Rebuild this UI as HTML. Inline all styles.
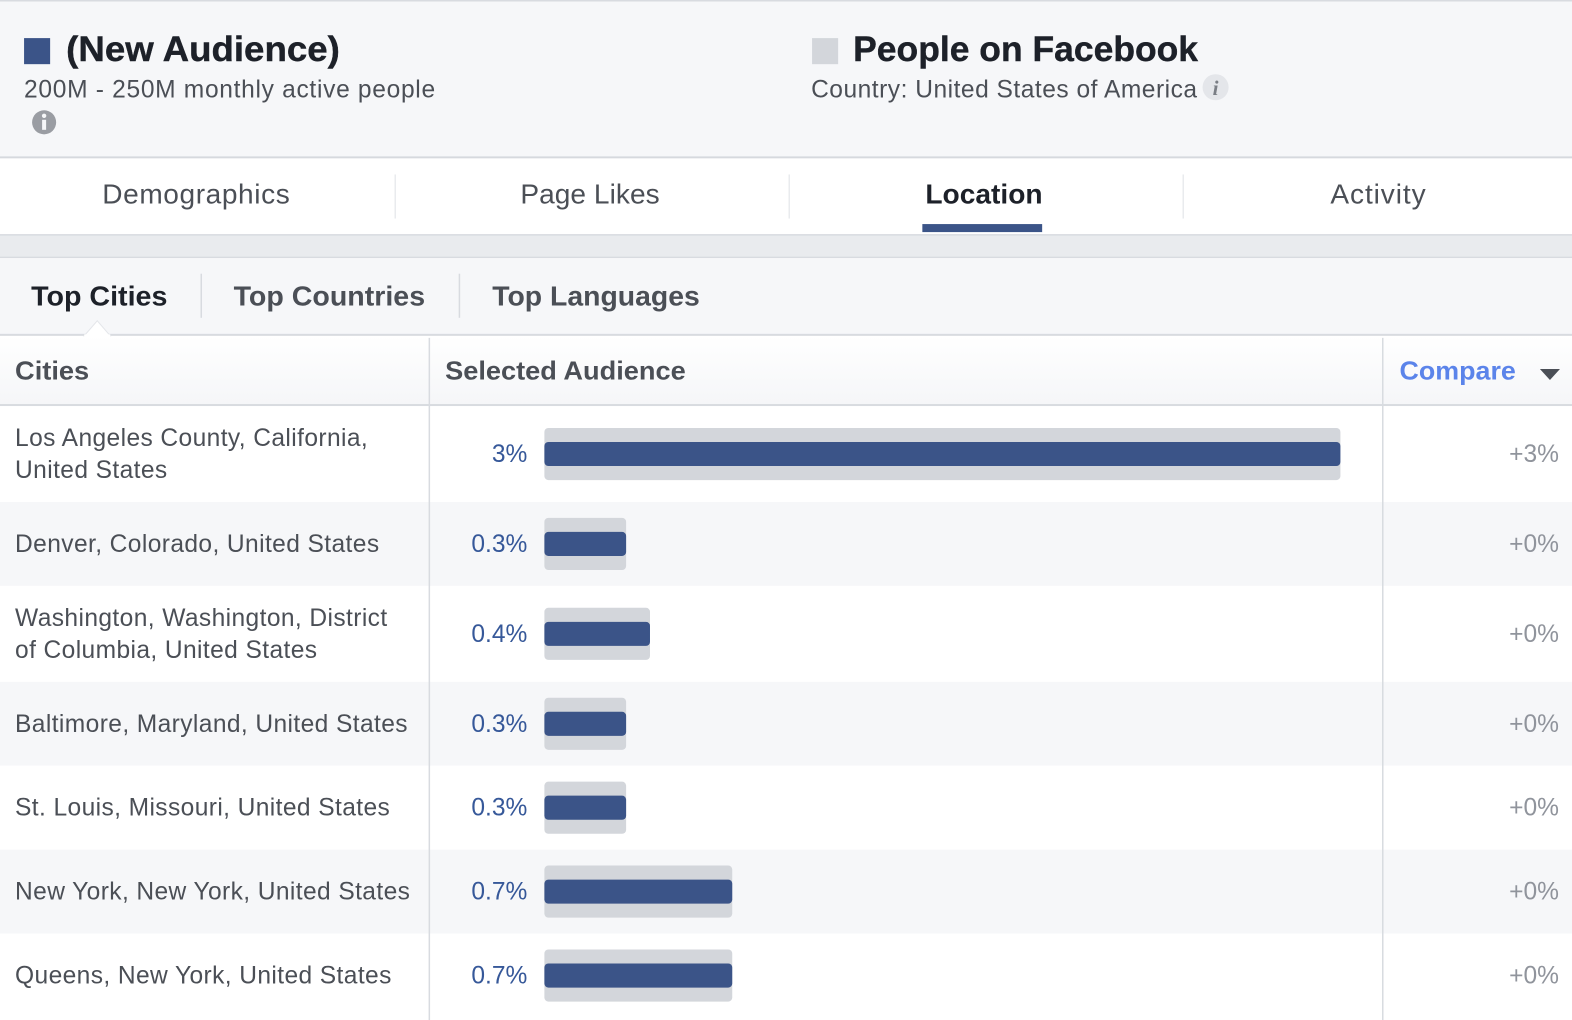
<!DOCTYPE html>
<html lang="en">
<head>
<meta charset="utf-8">
<title>Audience Insights - Location</title>
<style>
html,body{margin:0;padding:0;background:#fff;width:1572px;height:1020px;overflow:hidden}
svg{display:block;position:absolute;left:0;top:0}
text{font-family:"Liberation Sans",Arial,sans-serif}
.b{font-weight:bold}
.city{font-size:24.5px;fill:#4b4f56}
.val{font-size:24.5px;fill:#365899;text-anchor:end}
.cmp{font-size:24.5px;fill:#90949c;text-anchor:end}
</style>
</head>
<body>
<svg id="chart" xmlns="http://www.w3.org/2000/svg" width="1572" height="1020" viewBox="0 0 1568 1017.4">
  <rect x="0" y="0" width="1568" height="1018" fill="#ffffff"/>
  <rect x="0" y="0" width="1568" height="157" fill="#f6f7f9"/>
  <rect x="0" y="0" width="1568" height="1.5" fill="#d8dbe0"/>
  <rect x="24" y="38" width="26" height="26" fill="#3b5488"/>
  <text class="b" x="66" y="61" font-size="35" fill="#1d2129" stroke="#1d2129" stroke-width="0.4" textLength="273" lengthAdjust="spacingAndGlyphs">(New Audience)</text>
  <text x="24" y="97.5" font-size="24.5" fill="#4b4f56" textLength="410">200M - 250M monthly active people</text>
  <g>
    <circle cx="44" cy="122" r="12" fill="#9a9da3"/>
    <circle cx="44" cy="115.5" r="2.2" fill="#f6f7f9"/>
    <rect x="42" y="119.5" width="4" height="10" fill="#f6f7f9"/>
  </g>
  <rect x="810" y="38" width="26" height="26" fill="#d3d6db"/>
  <text class="b" x="851" y="61" font-size="35" fill="#1d2129" stroke="#1d2129" stroke-width="0.4" textLength="344" lengthAdjust="spacingAndGlyphs">People on Facebook</text>
  <text x="809" y="97.5" font-size="24.5" fill="#4b4f56" textLength="385">Country: United States of America</text>
  <g>
    <circle cx="1212.5" cy="87" r="13" fill="#e4e6ea"/>
    <text x="1212.5" y="95" font-size="21" font-style="italic" font-weight="bold" fill="#7a7e85" text-anchor="middle" style="font-family:'Liberation Serif',serif">i</text>
  </g>

  <rect x="0" y="156" width="1568" height="2" fill="#d6d9de"/>
  <rect x="0" y="158" width="1568" height="76" fill="#ffffff"/>
  <text x="102" y="203" font-size="28" fill="#4b4f56" textLength="187">Demographics</text>
  <rect x="393.5" y="174" width="1.5" height="44" fill="#e9ebee"/>
  <text x="519" y="203" font-size="28" fill="#4b4f56" textLength="139">Page Likes</text>
  <rect x="786.5" y="174" width="1.5" height="44" fill="#e9ebee"/>
  <text class="b" x="923" y="203" font-size="28" fill="#1d2129" textLength="117" lengthAdjust="spacingAndGlyphs">Location</text>
  <rect x="920" y="223.5" width="119.5" height="8" fill="#3b5488"/>
  <rect x="1179.5" y="174" width="1.5" height="44" fill="#e9ebee"/>
  <text x="1327" y="203" font-size="28" fill="#4b4f56" textLength="95">Activity</text>

  <rect x="0" y="234" width="1568" height="23" fill="#e9ebee"/>
  <rect x="0" y="233.5" width="1568" height="1.5" fill="#d8dbe0"/>
  <rect x="0" y="256" width="1568" height="1.5" fill="#d8dbe0"/>
  <rect x="0" y="257.5" width="1568" height="76" fill="#f6f7f9"/>
  <text class="b" x="31" y="304.5" font-size="28" fill="#1d2129" textLength="136" lengthAdjust="spacingAndGlyphs">Top Cities</text>
  <rect x="200" y="273" width="1.5" height="44" fill="#d8dbe0"/>
  <text class="b" x="233" y="304.5" font-size="28" fill="#4b4f56" textLength="191" lengthAdjust="spacingAndGlyphs">Top Countries</text>
  <rect x="457.5" y="273" width="1.5" height="44" fill="#d8dbe0"/>
  <text class="b" x="491" y="304.5" font-size="28" fill="#4b4f56" textLength="207" lengthAdjust="spacingAndGlyphs">Top Languages</text>

  <defs>
    <linearGradient id="headGrad" x1="0" y1="0" x2="0" y2="1">
      <stop offset="0" stop-color="#ffffff"/>
      <stop offset="1" stop-color="#f5f6f8"/>
    </linearGradient>
  </defs>
  <rect x="0" y="335" width="1568" height="69" fill="url(#headGrad)"/>
  <rect x="0" y="333" width="1568" height="2" fill="#d8dbe0"/>
  <path d="M84 335 L97 320 L110 335 Z" fill="#ffffff" stroke="#e4e6ea" stroke-width="1"/>
  <rect x="84" y="333.5" width="26" height="3" fill="#ffffff"/>
  <text class="b" x="15" y="378.5" font-size="26" fill="#4b4f56" textLength="74" lengthAdjust="spacingAndGlyphs">Cities</text>
  <text class="b" x="444" y="378.5" font-size="26" fill="#4b4f56" textLength="240" lengthAdjust="spacingAndGlyphs">Selected Audience</text>
  <text class="b" x="1396" y="378.5" font-size="26" fill="#5b84ea" textLength="116" lengthAdjust="spacingAndGlyphs">Compare</text>
  <path d="M1536 368 L1556 368 L1546 379 Z" fill="#4b4f56"/>

  <g id="rows"></g>

  <rect x="0" y="403" width="1568" height="2" fill="#d8dbe0"/>
  <rect x="427.5" y="337" width="1.5" height="682" fill="#d8dbe0"/>
  <rect x="1378.5" y="337" width="1.5" height="682" fill="#d8dbe0"/>
</svg>

<script>
const cities = [
  ["Los Angeles County, California,", "United States"],
  ["Denver, Colorado, United States"],
  ["Washington, Washington, District", "of Columbia, United States"],
  ["Baltimore, Maryland, United States"],
  ["St. Louis, Missouri, United States"],
  ["New York, New York, United States"],
  ["Queens, New York, United States"]
];
const selectedAudience = [3, 0.308, 0.398, 0.308, 0.308, 0.708, 0.708];
const valueLabels = ["3%", "0.3%", "0.4%", "0.3%", "0.3%", "0.7%", "0.7%"];
const compareLabels = ["+3%", "+0%", "+0%", "+0%", "+0%", "+0%", "+0%"];

const NS = "http://www.w3.org/2000/svg";
const rowsGroup = document.getElementById("rows");
const axisMax = 3;
const barStart = 543;
const barSpan = 794;
function xScale(v) { return v / axisMax * barSpan; }
function rowHeight(i) { return cities[i].length > 1 ? 95.7 : 83.7; }
function rowTop(i) {
  let y = 405;
  for (let k = 0; k < i; k++) y += rowHeight(k);
  return y;
}
function make(tag, attrs, parent) {
  const el = document.createElementNS(NS, tag);
  for (const k in attrs) el.setAttribute(k, attrs[k]);
  parent.appendChild(el);
  return el;
}
cities.forEach(function (lines, i) {
  const top = rowTop(i), h = rowHeight(i), mid = top + h / 2;

  const g = make("g", {}, rowsGroup);
  
  

  const bg = make("rect", { x: 0, y: top, width: 1568, height: h, fill: i % 2 ? "#f6f7f9" : "#ffffff" }, g);
  
  

  lines.forEach(function (line, j) {
    const t = make("text", { x: 15, y: mid + 8 + (j - (lines.length - 1) / 2) * 32, "class": "city", "letter-spacing": "0.4" }, g);
    t.textContent = line;
    
    
  });

  const val = make("text", { x: 526, y: mid + 8, "class": "val" }, g);
  val.textContent = valueLabels[i];
  
  

  const w = xScale(selectedAudience[i]);
  const benchmark = make("rect", { x: barStart, y: mid - 26, width: w, height: 52, rx: 4, fill: "#d3d6db" }, g);
  
  

  const bar = make("rect", { x: barStart, y: mid - 12, width: w, height: 24, rx: 4, fill: "#3b5488" }, g);
  
  

  const cmp = make("text", { x: 1555, y: mid + 8, "class": "cmp" }, g);
  cmp.textContent = compareLabels[i];
  
  
});
</script>
</body>
</html>
